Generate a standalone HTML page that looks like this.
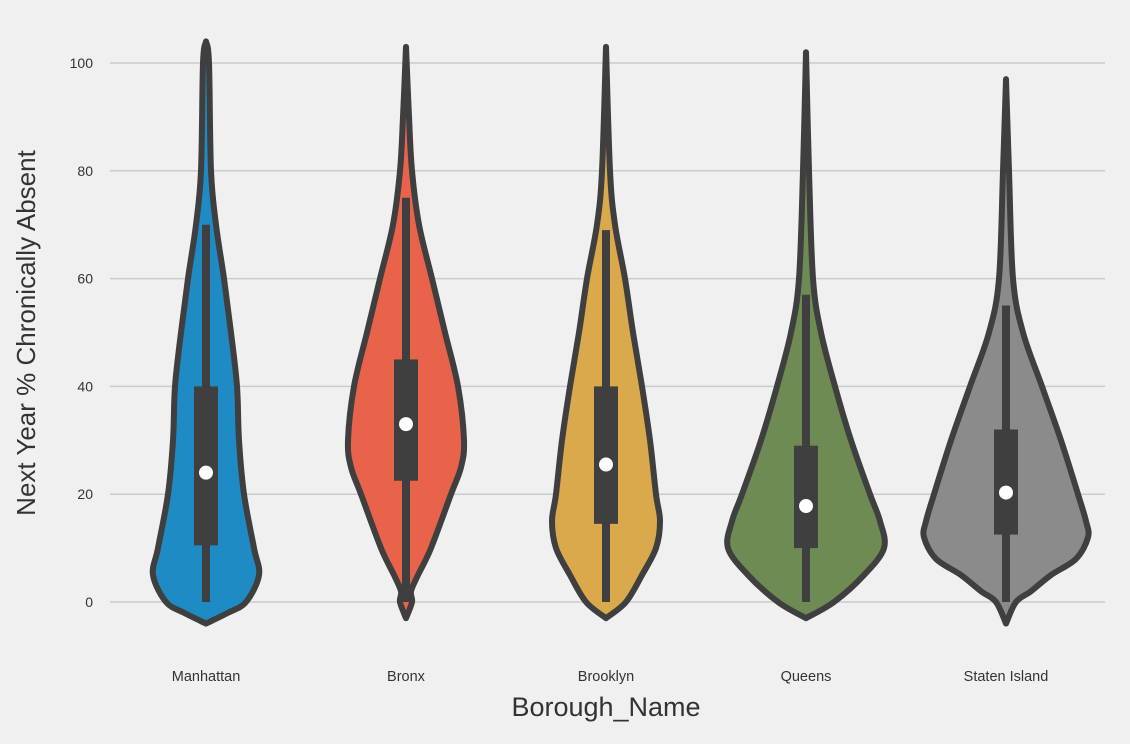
<!DOCTYPE html>
<html><head><meta charset="utf-8"><style>
html,body{margin:0;padding:0;background:#f0f0f0;}
svg{display:block;font-family:"Liberation Sans",sans-serif;}
</style></head><body>
<svg id="chart" width="1130" height="744" viewBox="0 0 1130 744">
<rect x="0" y="0" width="1130" height="744" fill="#f0f0f0"/>
<g id="grid"></g>
<g id="violins"></g>
<g id="labels"></g>
<text x="35" y="333" font-size="26" fill="#333" text-anchor="middle" transform="rotate(-90 35 333)">Next Year % Chronically Absent</text>
<text x="606" y="716" font-size="27" fill="#333" text-anchor="middle">Borough_Name</text>
</svg>
<script>
const categories = ["Manhattan","Bronx","Brooklyn","Queens","Staten Island"];
const colors = ["#1f8bc4","#e8634a","#d9a94b","#6d8b53","#8b8b8b"];
const yTicks = [0,20,40,60,80,100];
const levels = [
 [104,100,80,70,60,50,40,30,20,10,5,0,-2,-4],
 [103,90,80,70,60,50,40,30,25,20,10,5,2,0,-3],
 [103,80,70,60,50,40,30,20,15,10,5,0,-3],
 [102,80,60,50,40,30,20,15,10,5,0,-3],
 [97,80,60,50,40,30,20,15,12,8,5,2,0,-4]
];
const halfWidths = [
 [0,3,5,10,18,25,31,33,38,48,53,40,22,0],
 [0,3,6,13,26,39,52,58,55,45,25,12,5,6,0],
 [0,4,9,19,27,36,44,50,54,50,36,20,0],
 [0,3,7,15,29,45,64,74,78,58,28,0],
 [0,3,7,17,36,55,72,80,82,70,45,25,10,0]
];
const q1 = [10.5,22.5,14.5,10,12.5];
const q3 = [40,45,40,29,32];
const medians = [24,33,25.5,17.8,20.3];
const whiskLo = [0,0,0,0,0];
const whiskHi = [70,75,69,57,55];

const NS="http://www.w3.org/2000/svg";
const y = v => 602 - v*5.39;
const x = i => 206 + i*200;
function mk(tag,attrs,parent){const e=document.createElementNS(NS,tag);for(const k in attrs)e.setAttribute(k,attrs[k]);parent.appendChild(e);return e;}
const grid=document.getElementById('grid'), lab=document.getElementById('labels'), vg=document.getElementById('violins');
yTicks.forEach(t=>{
 const l=mk('line',{x1:110,x2:1105,y1:y(t),y2:y(t),stroke:'#cbcbcb','stroke-width':1.5},grid);
 
 
 const tx=mk('text',{x:93,y:y(t)+5,'font-size':14,fill:'#333','text-anchor':'end'},lab);
 tx.textContent=t;
 
 
});
function smooth(pts){
 let d='M'+pts[0][0]+','+pts[0][1];
 for(let i=0;i<pts.length-1;i++){
  const p0=pts[Math.max(0,i-1)],p1=pts[i],p2=pts[i+1],p3=pts[Math.min(pts.length-1,i+2)];
  const c1=[p1[0]+(p2[0]-p0[0])/6,p1[1]+(p2[1]-p0[1])/6];
  const c2=[p2[0]-(p3[0]-p1[0])/6,p2[1]-(p3[1]-p1[1])/6];
  d+=' C'+c1[0]+','+c1[1]+' '+c2[0]+','+c2[1]+' '+p2[0]+','+p2[1];
 }
 return d;
}
categories.forEach((c,i)=>{
 const cx=x(i);
 const right=levels[i].map((v,j)=>[cx+halfWidths[i][j],y(v)]);
 const left=levels[i].map((v,j)=>[cx-halfWidths[i][j],y(v)]).reverse();
 const d=smooth(right)+' '+smooth(left).replace('M','L')+' Z';
 const p=mk('path',{d:d,fill:colors[i],stroke:'#3f3f3f','stroke-width':6,'stroke-linejoin':'round'},vg);
 
 
 const w=mk('line',{x1:cx,x2:cx,y1:y(whiskLo[i]),y2:y(whiskHi[i]),stroke:'#3f3f3f','stroke-width':8},vg);
 
 
 const b=mk('rect',{x:cx-12,y:y(q3[i]),width:24,height:y(q1[i])-y(q3[i]),fill:'#3f3f3f'},vg);
 
 
 const m=mk('circle',{cx:cx,cy:y(medians[i]),r:7,fill:'#fff'},vg);
 
 
 const t=mk('text',{x:cx,y:681,'font-size':14.5,fill:'#333','text-anchor':'middle'},lab);
 t.textContent=c;
 
 
});
</script>
</body></html>
